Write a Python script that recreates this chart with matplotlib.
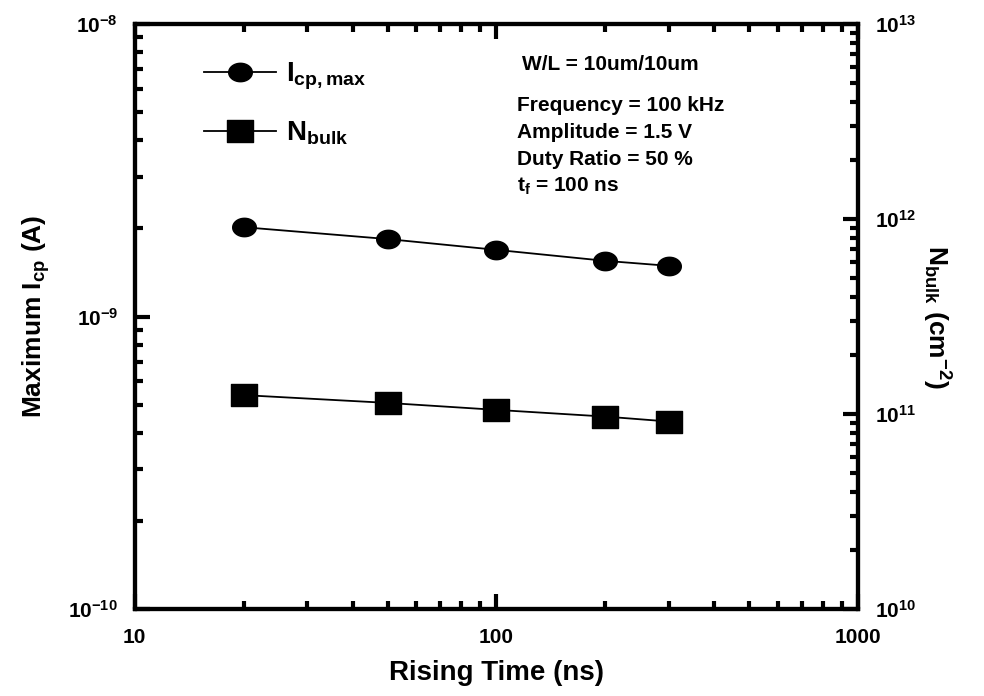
import numpy as np
import matplotlib
matplotlib.use("Agg")
import matplotlib.pyplot as plt
from matplotlib.path import Path
from matplotlib.ticker import FuncFormatter, LogLocator, NullFormatter

plt.rcParams['font.family'] = ['Liberation Sans', 'DejaVu Sans']
plt.rcParams['font.weight'] = 'bold'
plt.rcParams['mathtext.fontset'] = 'custom'
plt.rcParams['mathtext.rm'] = 'Liberation Sans:bold'
plt.rcParams['mathtext.bf'] = 'Liberation Sans:bold'
plt.rcParams['mathtext.it'] = 'Liberation Sans:bold'
plt.rcParams['mathtext.default'] = 'rm'

# Data
rising_time = [20, 50, 100, 200, 300]          # ns
icp_max = [2.02e-9, 1.84e-9, 1.69e-9, 1.55e-9, 1.49e-9]   # A
n_bulk = [1.25e11, 1.14e11, 1.05e11, 9.7e10, 9.15e10]      # cm^-2

conditions = ["W/L = 10um/10um", "Frequency = 100 kHz", "Amplitude = 1.5 V",
              "Duty Ratio = 50 %", r"$\mathrm{t_f}$ = 100 ns"]

# Slightly flattened marker shapes
th = np.linspace(0, 2 * np.pi, 60)
ellipse = Path(np.column_stack([np.cos(th), 0.78 * np.sin(th)]), closed=True)
rect = Path([(-1, -0.82), (1, -0.82), (1, 0.82), (-1, 0.82), (-1, -0.82)], closed=True)


def pow10(v, pos):
    e = int(round(np.log10(v)))
    return r"$\mathrm{10^{%d}}$" % e


fig = plt.figure(figsize=(9.84, 6.96), dpi=100)
ax = fig.add_axes([0.137, 0.125, 0.735, 0.8405])
ax2 = ax.twinx()

l1, = ax.plot(rising_time, icp_max, color='black', lw=1.3, marker=ellipse, ms=17,
              label=r'$\mathrm{I_{cp,max}}$')
l2, = ax2.plot(rising_time, n_bulk, color='black', lw=1.3, marker=rect, ms=19,
               label=r'$\mathrm{N_{bulk}}$')

ax.set_xscale('log')
ax.set_yscale('log')
ax2.set_yscale('log')
ax.set_xlim(10, 1000)
ax.set_ylim(1e-10, 1e-8)
ax2.set_ylim(1e10, 1e13)

for a in (ax, ax2):
    for s in a.spines.values():
        s.set_linewidth(3.0)

ax.xaxis.set_major_formatter(FuncFormatter(lambda v, p: f"{v:g}"))
ax.xaxis.set_minor_formatter(NullFormatter())
for a in (ax, ax2):
    a.yaxis.set_major_locator(LogLocator(base=10, numticks=10))
    a.yaxis.set_minor_locator(LogLocator(base=10, subs=np.arange(2, 10), numticks=20))
    a.yaxis.set_major_formatter(FuncFormatter(pow10))
    a.yaxis.set_minor_formatter(NullFormatter())

ax.tick_params(axis='x', which='major', pad=14)
ax.tick_params(which='major', direction='in', length=11, width=3, labelsize=15,
               top=True, right=False)
ax.tick_params(axis='y', which='major', pad=12)
ax.tick_params(which='minor', direction='in', length=6, width=3, top=True, right=False)
ax2.tick_params(which='major', direction='in', length=11, width=3, labelsize=15, pad=12)
ax2.tick_params(which='minor', direction='in', length=6, width=3)

ax.set_xlabel("Rising Time (ns)", fontsize=20, fontweight='bold', labelpad=9)
ax.set_ylabel(r"Maximum $\mathrm{I_{cp}}$ (A)", fontsize=19, fontweight='bold', labelpad=12)
ax2.set_ylabel(r"$\mathrm{N_{bulk}}$ $\mathrm{(cm^{-2})}$", fontsize=19, fontweight='bold',
               rotation=270, labelpad=26)

leg = ax.legend(handles=[l1, l2], loc='upper left', bbox_to_anchor=(0.065, 0.975),
                frameon=True, fontsize=20, handlelength=2.6, labelspacing=1.0,
                borderpad=0.3, handletextpad=0.35)
leg.get_frame().set_edgecolor('none')
leg.get_frame().set_facecolor('white')

ax.text(0.535, 0.93, conditions[0], transform=ax.transAxes, fontsize=15,
        fontweight='bold', va='center')
for i, line in enumerate(conditions[1:]):
    ax.text(0.528, 0.86 - i * 0.046, line, transform=ax.transAxes, fontsize=15,
            fontweight='bold', va='center')

fig.savefig("out.png", dpi=100)
